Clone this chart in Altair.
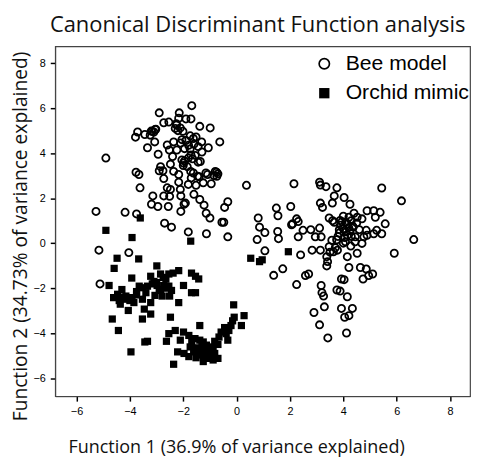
import altair as alt
import pandas as pd

# Bee model (open circles)
bee_x = [-1.68, -2.90, -2.15, -2.73, -2.54, -2.17, -1.90, -1.71, -1.38, -0.99,
         -2.26, -2.11, -2.01, -3.03, -3.10, -3.16, -3.71, -3.79, -3.44, -3.24,
         -3.07, -3.34, -2.94, -2.60, -2.36, -2.52, -2.24, -1.90, -1.74, -1.62,
         -1.52, -1.31, -1.44, -1.74, -1.06, -0.63, -2.05, -1.99, -1.81, -1.71,
         -1.44, -1.36, -2.48, -4.90, -3.77, -3.66, -3.62, -2.90, -2.76, -2.73,
         -2.36, -2.17, -1.72, -1.62, -1.46, -1.15, -1.09, -0.80, -0.70, -0.74,
         -1.25, -0.95, -1.52, -1.81, -2.17, -2.60, -2.48, -2.11, -2.09, -1.60,
         -1.38, -3.14, -2.73, -2.51, -1.97, -1.92, -3.19, -2.95, -2.56, -2.09,
         -1.22, -1.14, -1.00, -0.33, -0.45, -0.55, -0.48, -1.81, -1.13, -0.33,
         -2.70, -2.44, -5.27, -4.18, -3.75, -5.16, -4.04, -5.12, 0.37,
         -2.20, -1.60, -1.85, -2.05, -1.55, -2.30, -1.95, -1.70,
         -3.05, -3.20, -2.25, -2.10, -1.80, -1.95, -2.00, -1.40, -0.85, -0.75,
         -1.65, -2.40, -2.85, -1.30,
         2.15, 3.11, 3.14, 3.35, 3.76, 5.44, 6.18, 3.66, 4.03, 4.25,
         3.14, 3.22, 3.59, 2.03, 1.49, 1.55, 0.81, 0.86, 1.06, 0.77,
         1.54, 1.57, 1.06, 2.10, 2.25, 2.31, 2.06, 2.31, 2.49, 2.78,
         2.95, 3.11, 3.17, 2.83, 3.14, 3.38, 3.41, 3.38, 3.47, 3.63,
         3.78, 3.57, 3.47, 3.66, 3.88, 4.09, 4.21, 4.40, 4.52, 4.70,
         4.37, 4.00, 3.85, 4.15, 4.45, 4.08, 4.28, 4.44, 4.89, 5.14,
         5.38, 5.20, 5.57, 5.25, 5.44, 5.14, 4.86, 4.77, 4.70, 4.89,
         6.64, 5.91, 4.52, 4.15, 4.21, 4.64, 4.86, 5.10, 4.74, 4.95,
         3.93, 4.03, 3.17, 3.20, 3.26, 3.76, 3.88, 4.15, 3.93, 4.34,
         3.29, 2.90, 4.21, 4.05, 3.11, 4.12, 3.42, 2.70, 2.58, 2.40,
         1.73, 1.39, 2.25,
         4.00, 4.20, 3.90, 4.30, 4.10, 3.80, 3.70, 3.50, 4.50, 4.60,
         3.60, 4.00, 4.30, 3.95, 4.15, 3.85, 4.25, 4.05, 3.75, 4.35]
bee_y = [6.11, 5.79, 5.79, 5.35, 5.38, 5.55, 5.52, 5.52, 5.19, 5.12,
         5.31, 5.12, 4.97, 5.06, 4.94, 4.97, 4.94, 4.71, 4.83, 4.80,
         4.50, 4.24, 3.95, 4.36, 4.50, 4.14, 4.14, 4.56, 4.77, 4.65,
         4.72, 4.50, 4.29, 4.18, 4.24, 4.50, 3.70, 3.56, 3.78, 3.92,
         3.60, 3.63, 3.51, 3.78, 3.15, 3.05, 2.46, 3.22, 3.22, 2.87,
         3.19, 3.05, 3.19, 3.12, 2.97, 3.12, 3.05, 3.19, 3.08, 2.97,
         2.68, 2.64, 2.57, 2.61, 2.71, 2.46, 2.39, 2.39, 2.10, 2.17,
         1.94, 2.10, 2.10, 2.08, 1.73, 1.78, 1.73, 1.63, 1.63, 1.41,
         1.69, 1.33, 1.12, 1.84, 1.59, 0.93, 0.93, 0.50, 0.42, 0.28,
         0.89, 0.71, 1.41, 1.37, 1.30, -0.31, -0.42, -1.81, 2.57,
         5.00, 4.40, 3.40, 4.60, 3.90, 5.10, 4.20, 2.90,
         5.05, 4.98, 5.25, 4.45, 4.35, 3.65, 3.45, 2.95, 3.00, 3.15,
         3.75, 3.85, 3.40, 4.05,
         2.64, 2.71, 2.58, 2.51, 2.46, 2.45, 1.88, 2.10, 2.03, 1.73,
         1.78, 1.59, 1.78, 1.63, 1.56, 1.22, 1.12, 0.71, 0.47, 0.16,
         0.52, 0.20, -0.34, 0.86, 1.08, 0.96, 0.82, 0.28, 0.57, 0.60,
         0.28, 0.67, 0.28, -0.31, -0.31, -0.60, -0.82, -1.01, -0.16, -0.38,
         -0.31, 0.13, 1.12, 0.93, 1.01, 0.93, 1.15, 1.33, 1.15, 1.08,
         0.71, 0.64, 0.45, 0.35, 0.28, 0.06, -0.13, 0.06, 1.44, 1.44,
         1.37, 1.15, 0.86, 0.57, 0.42, 0.42, 0.57, 0.28, -0.01, 0.35,
         0.16, -0.45, -0.45, -0.60, -1.08, -1.08, -1.15, -1.37, -1.59, -1.44,
         -1.59, -1.62, -1.88, -2.20, -2.35, -2.08, -2.13, -2.38, -2.90, -2.90,
         -2.83, -3.08, -3.22, -3.29, -3.63, -3.99, -4.21, -1.37, -1.44, -0.52,
         -1.14, -1.43, -1.84,
         1.20, 0.70, 0.80, 1.00, 0.50, 0.30, -0.20, -0.40, 0.90, 0.60,
         1.00, 0.00, 0.30, 0.95, 0.85, 0.60, 0.55, 0.25, 0.15, 0.75]

# Orchid mimic (filled squares)
orchid_x = [-3.61, -4.90, -3.92, -1.72, -4.48, -3.67, -4.59, -4.78, -3.93, -2.99,
            -3.22, -2.85, -2.75, -2.54, -2.38, -2.17, -3.65, -3.53, -3.34, -3.16,
            -2.98, -2.73, -2.54, -2.44, -2.51, -2.79, -3.06, -3.22, -3.40, -3.53,
            -3.46, -3.22, -3.53, -3.92, -4.15, -4.30, -4.46, -4.61, -4.36, -4.15,
            -3.85, -4.06, -4.66, -4.43, -3.96, -3.34, -3.44, -1.99, -1.69, -1.54,
            -1.42, -1.69, -1.54, -2.17, -2.48, -1.38, -0.11, 0.28, -0.09, 0.18,
            -0.21, -0.29, -0.39, -0.58, -0.66, -0.33, -0.82, -0.70, -0.88, -1.01,
            -1.13, -1.25, -1.38, -1.56, -1.68, -1.74, -1.61, -1.79, -1.52, -1.25,
            -1.07, -0.88, -0.70, -0.82, -1.01, -1.19, -1.38, -1.97, -2.21, -2.36,
            -1.99, -2.30, -2.54, -2.63, -2.11, -1.79, 0.53, 0.86, 0.96, 1.94,
            -1.25, -3.10, -2.65, -2.90, -3.75, -4.00, -1.05, -1.45, -0.45, -0.15,
            -2.60, -2.85, -3.00, -4.25, -4.40, -3.75, -1.15, -1.30, -0.95, -1.50]
orchid_y = [1.12, 0.57, 0.25, 0.09, -0.67, -0.70, -1.12, -1.88, -1.55, -1.01,
            -1.47, -1.37, -1.52, -1.37, -1.33, -1.22, -1.91, -1.98, -1.91, -1.81,
            -1.88, -1.88, -1.91, -2.10, -2.35, -2.35, -2.32, -2.64, -2.20, -2.49,
            -2.93, -3.15, -3.37, -2.42, -2.35, -2.06, -2.27, -2.42, -2.71, -2.49,
            -2.64, -2.99, -3.37, -3.88, -4.83, -4.36, -4.39, -1.88, -1.33, -1.47,
            -1.59, -2.20, -2.20, -2.64, -3.29, -3.66, -2.74, -3.22, -3.29, -3.66,
            -3.66, -3.88, -4.02, -3.95, -4.17, -4.31, -4.36, -4.50, -4.61, -4.68,
            -4.53, -4.39, -4.31, -4.24, -4.39, -4.61, -4.83, -5.04, -5.09, -5.26,
            -5.12, -5.19, -5.12, -4.90, -4.97, -4.90, -4.97, -4.90, -4.83, -5.38,
            -3.95, -3.88, -4.02, -4.36, -4.31, -4.10, -0.67, -0.82, -0.74, -0.38,
            -4.75, -1.70, -1.60, -2.05, -2.30, -2.55, -4.80, -4.70, -3.75, -3.45,
            -2.00, -2.10, -1.75, -2.40, -2.55, -2.15, -5.00, -4.55, -4.80, -4.65]

groups = ["Bee model", "Orchid mimic"]
title_text = ["Canonical Discriminant Function analysis"]

df = pd.concat([
    pd.DataFrame({"x": bee_x, "y": bee_y, "group": groups[0]}),
    pd.DataFrame({"x": orchid_x, "y": orchid_y, "group": groups[1]}),
])

tick_vals = [-6, -4, -2, 0, 2, 4, 6, 8]
dom = [-6.8, 8.75]

points = alt.Chart(df).mark_point(size=54, strokeWidth=1.8, opacity=1).encode(
    x=alt.X("x:Q", scale=alt.Scale(domain=dom, nice=False, zero=False),
            axis=alt.Axis(values=tick_vals, title="Function 1 (36.9% of variance explained)",
                          titleX=184, titleY=57, titleAnchor=None, titleBaseline="alphabetic",
                          titleFontSize=18.3)),
    y=alt.Y("y:Q", scale=alt.Scale(domain=dom, nice=False, zero=False),
            axis=alt.Axis(values=tick_vals, title="Function 2 (34.73% of variance explained)",
                          titleX=-29, titleY=193, titleAngle=270, titleBaseline="alphabetic",
                          titleFontSize=19.5)),
    shape=alt.Shape("group:N", scale=alt.Scale(domain=groups, range=["circle", "square"]),
                    legend=alt.Legend(title=None, orient="none", legendX=263, legendY=7)),
    fill=alt.Fill("group:N", scale=alt.Scale(domain=groups, range=["transparent", "black"]),
                  legend=alt.Legend(title=None, orient="none", legendX=263, legendY=7)),
    stroke=alt.Stroke("group:N", scale=alt.Scale(domain=groups, range=["black", "transparent"]),
                      legend=alt.Legend(title=None, orient="none", legendX=263, legendY=7)),
)

title = alt.Chart(pd.DataFrame({"t": title_text})).mark_text(
    font="Open Sans", fontSize=22.3, color="#111", align="center", baseline="alphabetic"
).encode(text="t:N", x=alt.value(206), y=alt.value(-15))

chart = alt.layer(points, title).properties(
    width=422, height=356,
    autosize=alt.AutoSizeParams(type="none"),
    padding={"left": 48, "top": 35, "right": 2, "bottom": 62},
).configure_view(
    stroke="#444", strokeWidth=1.2
).configure_axis(
    grid=False, domain=True, domainColor="#444", tickColor="black", tickSize=5,
    tickWidth=1.5, labelFont="Liberation Sans", labelFontSize=11, labelColor="black",
    labelPadding=5, titleFont="Open Sans", titleFontWeight="normal", titleColor="#111",
).configure_legend(
    padding=0, labelFont="Liberation Sans",
    labelFontSize=21.5, labelColor="black", symbolSize=110, symbolStrokeWidth=1.7,
    rowPadding=7, labelOffset=11,
)

chart.save("out.html", embed_options={"renderer": "svg", "actions": False})
